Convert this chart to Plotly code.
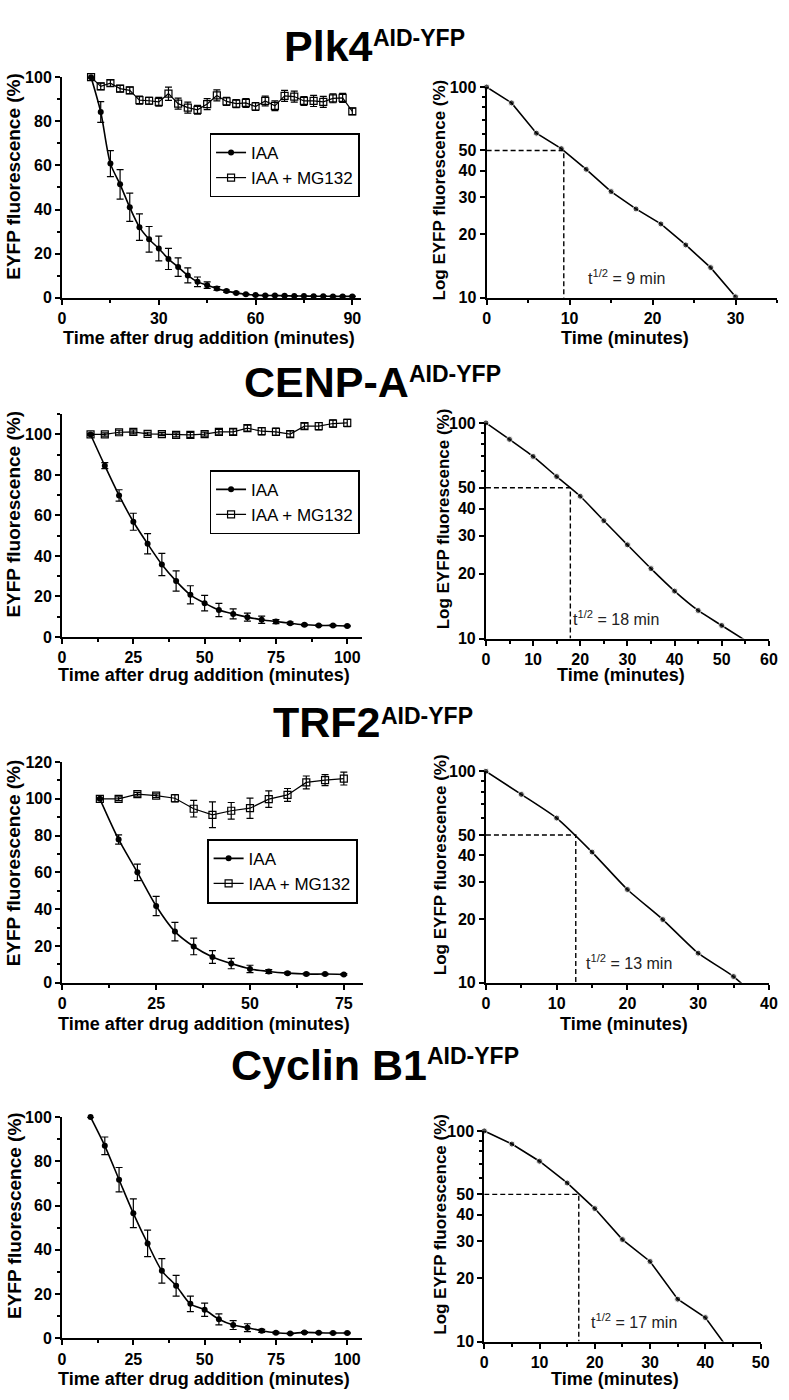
import math
import plotly.graph_objects as go

W, H = 789, 1400
SANS = "Liberation Sans, Arial, Helvetica, sans-serif"

# ---------------- data ----------------
proteins = ["Plk4", "CENP-A", "TRF2", "Cyclin B1"]
tag = "AID-YFP"
half_life = [9.3, 17.9, 12.7, 17.1]
half_life_text = ["9 min", "18 min", "13 min", "17 min"]

# Plk4
plk4_time = list(range(9, 91, 3))
plk4_iaa = [100, 84.2, 60.8, 51.4, 41.0, 32.0, 26.5, 22.3, 17.6, 13.9, 10.1, 7.2, 5.7, 4.2,
            3.0, 2.2, 1.6, 1.2, 1.0, 1.0, 0.9, 0.8, 0.8, 0.7, 0.7, 0.6, 0.6, 0.6]
plk4_iaa_err = [0, 4.7, 5.9, 6.7, 6.4, 6.0, 5.8, 5.6, 4.8, 4.2, 3.4, 2.2, 1.5, 0.8,
                0.5, 0.4, 0.3, 0.2, 0.2, 0.2, 0.2, 0.2, 0.1, 0.1, 0.1, 0.1, 0.1, 0.1]
plk4_mg = [100, 95.8, 97.3, 94.8, 94.0, 89.6, 89.3, 88.8, 92.5, 88.0, 86.2, 85.2, 87.8, 91.7,
           89.0, 88.0, 88.3, 86.7, 89.2, 87.0, 91.5, 91.2, 89.2, 89.2, 88.8, 90.4, 90.6, 84.5]
plk4_mg_err = [0.5, 1.5, 1.5, 1.5, 1.5, 1.8, 1.5, 2.0, 3.0, 2.5, 2.5, 2.0, 2.5, 2.5,
               1.8, 1.8, 2.0, 1.8, 2.2, 2.2, 2.5, 2.5, 2.0, 2.5, 2.5, 2.0, 2.0, 1.5]
plk4_log_time = list(range(0, 31, 3))
plk4_log = [100, 84.1, 60.4, 51.0, 40.7, 31.9, 26.4, 22.4, 17.8, 13.9, 10.1]

# CENP-A
cenpa_time = list(range(10, 101, 5))
cenpa_iaa = [100, 84.6, 69.9, 56.9, 46.0, 35.8, 27.6, 20.8, 16.7, 13.3, 11.4, 9.8, 8.5, 7.6,
             6.8, 6.0, 5.7, 5.7, 5.4]
cenpa_iaa_err = [0, 1.5, 2.8, 4.2, 5.0, 5.5, 5.0, 4.5, 3.8, 3.3, 2.5, 2.0, 1.8, 1.0,
                 0.6, 0.4, 0.3, 0.3, 0.3]
cenpa_mg = [100, 100.0, 101.1, 101.3, 100.3, 100.2, 99.8, 99.8, 100.2, 101.3, 101.3, 103.1,
            101.6, 101.3, 100.2, 104.1, 104.1, 105.4, 105.7]
cenpa_mg_err = [0.5, 0.8, 1.0, 1.0, 0.8, 0.8, 1.0, 1.2, 1.0, 1.2, 1.5, 1.5, 1.8, 1.8,
                1.5, 1.5, 1.8, 1.8, 1.8]
cenpa_log_time = list(range(0, 56, 5))
cenpa_log = [100, 83.9, 69.9, 56.4, 45.7, 35.2, 27.2, 21.1, 16.6, 13.5, 11.5, 9.8]

# TRF2
trf2_time = list(range(10, 76, 5))
trf2_iaa = [100, 77.9, 60.0, 41.7, 27.8, 19.7, 14.0, 10.4, 7.5, 6.1, 5.2, 4.7, 4.7, 4.5]
trf2_iaa_err = [0, 2.5, 4.5, 5.2, 5.0, 4.5, 3.5, 2.8, 2.0, 1.0, 0.6, 0.5, 0.4, 0.4]
trf2_mg = [100, 100.0, 102.5, 101.7, 100.3, 94.6, 91.3, 93.5, 94.9, 99.8, 102.1, 108.9, 110.2, 111.0]
trf2_mg_err = [0.5, 1.0, 1.0, 1.0, 2.0, 4.5, 7.0, 4.5, 5.5, 4.5, 3.5, 3.5, 3.0, 3.5]
trf2_log_time = list(range(0, 41, 5))
trf2_log = [100, 77.8, 60.1, 41.5, 27.6, 19.9, 13.8, 10.7, 7.5]

# Cyclin B1
cycb_time = list(range(10, 101, 5))
cycb_iaa = [100, 87.0, 71.7, 56.5, 42.9, 30.5, 23.8, 15.6, 12.9, 8.6, 6.0, 4.8, 3.4, 2.5,
            2.2, 2.7, 2.5, 2.4, 2.4]
cycb_iaa_err = [0, 4.0, 5.5, 6.5, 6.0, 5.5, 4.7, 3.5, 3.0, 2.5, 2.0, 1.8, 0.7, 0.4,
                0.3, 0.4, 0.3, 0.3, 0.3]
cycb_log_time = list(range(0, 46, 5))
cycb_log = [100, 86.6, 71.8, 56.6, 42.8, 30.5, 24.0, 15.9, 13.0, 8.6]

# ---------------- layout helpers ----------------
def dx(a, b):
    return [a / W, b / W]

def dy(top, bottom):
    return [1 - bottom / H, 1 - top / H]

def py(v):
    return 1 - v / H

def px(v):
    return v / W

TICKFONT = dict(family=SANS, size=16, color="black", weight="bold")

rows = [
    dict(lx=(59, 363), ly=(70, 293.3), lxr=[0, 92.7], lyr=[0, 100], lxd=30,
         rx=(490.7, 786), ry=(80, 293.3), rxr=[0, 35], rxd=10),
    dict(lx=(59, 363.5), ly=(411.2, 636.7), lxr=[0, 105], lyr=[0, 110], lxd=25,
         rx=(490, 777.7), ry=(420, 638.3), rxr=[0, 60], rxd=10),
    dict(lx=(59.3, 364.6), ly=(763.3, 986.7), lxr=[0, 80], lyr=[0, 120], lxd=25,
         rx=(490, 777.7), ry=(772.7, 986.7), rxr=[0, 40], rxd=10),
    dict(lx=(59, 363.5), ly=(1122.7, 1346.7), lxr=[0, 105], lyr=[0, 100], lxd=25,
         rx=(488.3, 769.3), ry=(1136.7, 1350), rxr=[0, 50], rxd=10),
]

common = dict(showline=True, linecolor="black", linewidth=2, ticks="outside", ticklen=5,
              tickwidth=2, tickcolor="black", showgrid=False, zeroline=False,
              tickfont=TICKFONT, fixedrange=True, ticklabeloverflow="allow")

layout_axes = {}
for i, r in enumerate(rows):
    nl = 2 * i + 1
    nr = 2 * i + 2
    sl = "" if nl == 1 else str(nl)
    sr = str(nr)
    layout_axes["xaxis" + sl] = dict(common, domain=dx(*r["lx"]), range=r["lxr"], tick0=0,
                                     dtick=r["lxd"], anchor="y" + sl,
                                     minor=dict(ticks="outside", ticklen=3, tickwidth=1.5,
                                                tickcolor="black", tick0=0, dtick=r["lxd"] / 2))
    layout_axes["yaxis" + sl] = dict(common, domain=dy(*r["ly"]), range=r["lyr"], tick0=0,
                                     dtick=20, anchor="x" + sl,
                                     minor=dict(ticks="outside", ticklen=3, tickwidth=1.5,
                                                tickcolor="black", tick0=0, dtick=10))
    layout_axes["xaxis" + sr] = dict(common, domain=dx(*r["rx"]), range=r["rxr"], tick0=0,
                                     dtick=r["rxd"], anchor="y" + sr,
                                     minor=dict(ticks="outside", ticklen=3, tickwidth=1.5,
                                                tickcolor="black", tick0=0, dtick=r["rxd"] / 2))
    layout_axes["yaxis" + sr] = dict(common, domain=dy(*r["ry"]), type="log", range=[1, 2],
                                     tickmode="array", tickvals=[10, 20, 30, 40, 50, 100],
                                     ticktext=["10", "20", "30", "40", "50", "100"],
                                     anchor="x" + sr,
                                     minor=dict(ticks="outside", ticklen=3, tickwidth=1.5,
                                                tickcolor="black", tickmode="array",
                                                tickvals=[60, 70, 80, 90]))

fig = go.Figure()

left_data = [
    (plk4_time, plk4_iaa, plk4_iaa_err, plk4_mg, plk4_mg_err),
    (cenpa_time, cenpa_iaa, cenpa_iaa_err, cenpa_mg, cenpa_mg_err),
    (trf2_time, trf2_iaa, trf2_iaa_err, trf2_mg, trf2_mg_err),
    (cycb_time, cycb_iaa, cycb_iaa_err, None, None),
]
right_data = [
    (plk4_log_time, plk4_log, "linear"),
    (cenpa_log_time, cenpa_log, "spline"),
    (trf2_log_time, trf2_log, "spline"),
    (cycb_log_time, cycb_log, "linear"),
]
legend_names = ["legend", "legend2", "legend3", None]

for i in range(4):
    nl = 2 * i + 1
    nr = 2 * i + 2
    sl = "" if nl == 1 else str(nl)
    sr = str(nr)
    t, iaa, iaa_e, mg, mg_e = left_data[i]
    lg = legend_names[i]
    fig.add_trace(go.Scatter(
        x=t, y=iaa, mode="lines+markers", name="IAA",
        line=dict(color="black", width=1.6, shape="spline", smoothing=0.8),
        marker=dict(symbol="circle", size=6, color="black"),
        error_y=dict(type="data", array=iaa_e, color="black", thickness=1.2, width=3.5),
        xaxis="x" + sl, yaxis="y" + sl, cliponaxis=False,
        showlegend=lg is not None, legend=lg if lg else "legend"))
    if mg is not None:
        fig.add_trace(go.Scatter(
            x=t, y=mg, mode="lines+markers", name="IAA + MG132",
            line=dict(color="black", width=1.2),
            marker=dict(symbol="square-open", size=7, color="black", line=dict(width=1.2)),
            error_y=dict(type="data", array=mg_e, color="black", thickness=1.2, width=3.5),
            xaxis="x" + sl, yaxis="y" + sl, cliponaxis=False,
            showlegend=True, legend=lg))
    lt, lv, lshape = right_data[i]
    sizes = [6 if v >= 10 else 0 for v in lv]
    fig.add_trace(go.Scatter(
        x=lt, y=lv, mode="lines+markers", showlegend=False,
        line=dict(color="black", width=1.6, shape=lshape, smoothing=0.6),
        marker=dict(symbol="circle", size=sizes, color="black"),
        xaxis="x" + sr, yaxis="y" + sr, cliponaxis=False))
    th = half_life[i]
    fig.add_trace(go.Scatter(
        x=[0, th, th], y=[50, 50, 10], mode="lines", showlegend=False,
        line=dict(color="black", width=1.4, dash="5px,3px"),
        xaxis="x" + sr, yaxis="y" + sr))

# ---------------- annotations ----------------
ann = []
title_main_y = [38, 378.5, 723, 1069.5]
title_sup_y = [30, 370.6, 716.6, 1061]
title_join_x = [376, 413, 384, 431]
for i in range(4):
    ann.append(dict(text=proteins[i], xref="paper", yref="paper", x=px(title_join_x[i]),
                    y=py(title_main_y[i]), xanchor="right", yanchor="middle", showarrow=False,
                    borderpad=0,
                    font=dict(family=SANS, size=43, color="black", weight="bold")))
    ann.append(dict(text=tag, xref="paper", yref="paper", x=px(title_join_x[i] - 2),
                    y=py(title_sup_y[i]), xanchor="left", yanchor="middle", showarrow=False,
                    borderpad=0,
                    font=dict(family=SANS, size=23, color="black", weight="bold")))

left_ytitle_y = [170, 512, 865, 1222]
right_ytitle_y = [184, 517, 867, 1231]
xtitle_y = [334, 675, 1028, 1388]
left_xtitle_x = [208, 203, 203, 203]
right_xtitle_x = [631, 627, 630, 621]
right_ytitle_x = [443, 447, 444, 443]
tlabel_x = [12.0, 18.1, 13.9, 19.0]
for i in range(4):
    ann.append(dict(text="EYFP fluorescence (%)", xref="paper", yref="paper", x=px(10),
                    y=py(left_ytitle_y[i]), textangle=-90, showarrow=False,
                    xanchor="center", yanchor="middle",
                    font=dict(family=SANS, size=19, color="black", weight="bold")))
    ann.append(dict(text="Log EYFP fluorescence (%)", xref="paper", yref="paper",
                    x=px(right_ytitle_x[i]), y=py(right_ytitle_y[i]), textangle=-90,
                    showarrow=False, xanchor="center", yanchor="middle",
                    font=dict(family=SANS, size=17, color="black", weight="bold")))
    ann.append(dict(text="Time after drug addition (minutes)", xref="paper", yref="paper",
                    x=px(left_xtitle_x[i]), y=py(xtitle_y[i]), showarrow=False,
                    xanchor="center", yanchor="middle",
                    font=dict(family=SANS, size=18, color="black", weight="bold")))
    ann.append(dict(text="Time (minutes)", xref="paper", yref="paper",
                    x=px(right_xtitle_x[i]), y=py(xtitle_y[i]), showarrow=False,
                    xanchor="center", yanchor="middle",
                    font=dict(family=SANS, size=18, color="black", weight="bold")))
    sr = str(2 * i + 2)
    ann.append(dict(text="t<sup>1/2</sup> = " + half_life_text[i], xref="x" + sr, yref="y" + sr,
                    x=tlabel_x[i], y=math.log10(12.5), xanchor="left", yanchor="middle",
                    showarrow=False, font=dict(family=SANS, size=16, color="#222")))

legend_style = dict(xanchor="left", yanchor="top", bgcolor="white", bordercolor="black",
                    borderwidth=1.5, font=dict(family=SANS, size=17, color="black"),
                    tracegroupgap=0, itemwidth=30)

fig.update_layout(
    width=W, height=H, margin=dict(l=0, r=0, t=0, b=0, pad=0),
    paper_bgcolor="white", plot_bgcolor="white",
    font=dict(family=SANS, color="black"),
    annotations=ann,
    legend=dict(legend_style, x=px(209), y=py(127)),
    legend2=dict(legend_style, x=px(209), y=py(468)),
    legend3=dict(legend_style, x=px(206), y=py(841), borderwidth=2),
    **layout_axes,
)

fig.write_html("out.html", config={"displayModeBar": False},
               post_script="document.body.style.margin='0';document.body.style.overflow='hidden';")
